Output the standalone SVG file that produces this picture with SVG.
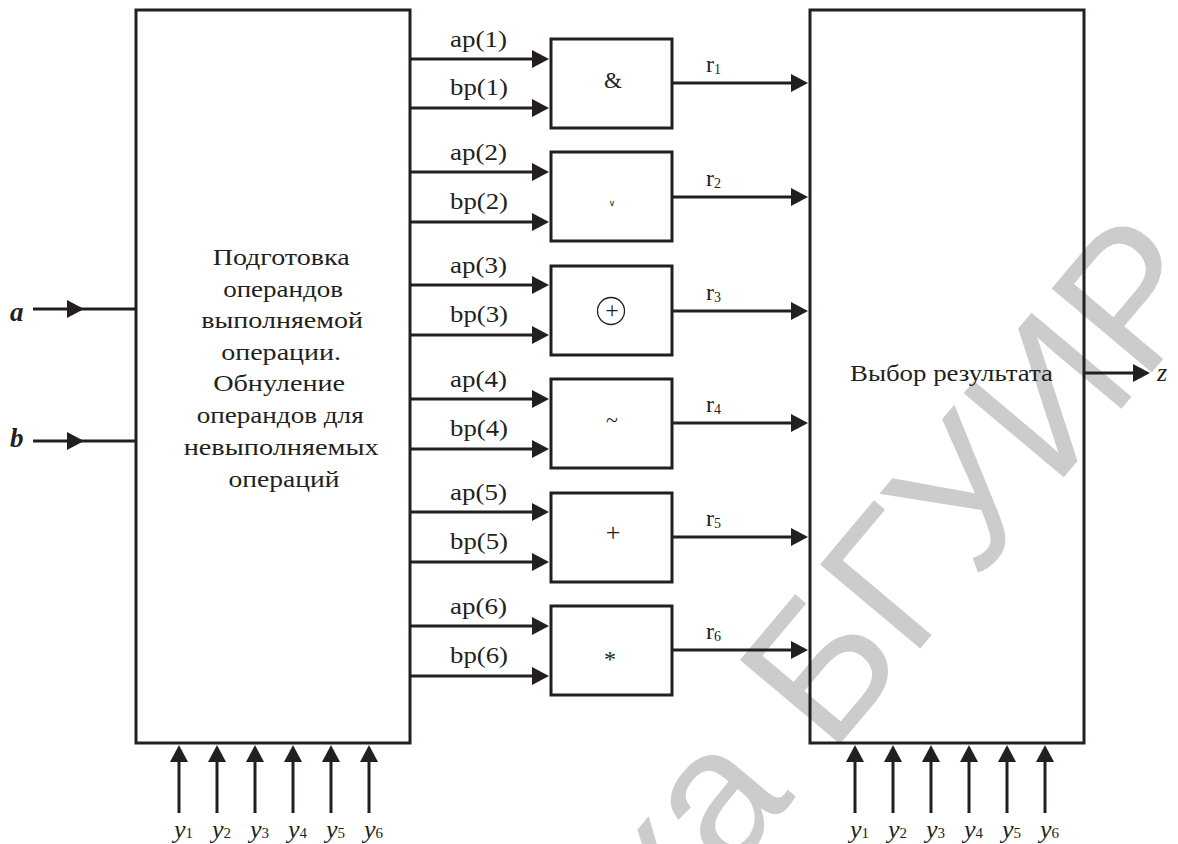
<svg xmlns="http://www.w3.org/2000/svg" width="1178" height="844" viewBox="0 0 1178 844">
<defs>
<style>
.box{fill:none;stroke:#231f20;stroke-width:3}
.w{fill:none;stroke:#231f20;stroke-width:3;marker-end:url(#ah)}
.wm{fill:none;stroke:#231f20;stroke-width:3;marker-mid:url(#ah)}
.t{font-family:"Liberation Serif","Times New Roman",serif;fill:#231f20;font-size:23px}
.lbl{font-family:"Liberation Serif","Times New Roman",serif;fill:#231f20;font-size:23px}
.rl{font-family:"Liberation Serif","Times New Roman",serif;fill:#231f20;font-size:24px}
.sub{font-size:14px}
.yl{font-family:"Liberation Serif","Times New Roman",serif;fill:#231f20;font-size:26px;font-style:italic}
.ys{font-size:15px;font-style:normal}
.io{font-family:"Liberation Serif","Times New Roman",serif;fill:#231f20;font-size:27px;font-style:italic;font-weight:bold}
.sym{font-family:"Liberation Serif","Times New Roman",serif;fill:#231f20;text-anchor:middle}
.wmk{font-family:"Liberation Sans",Arial,sans-serif;fill:#cccccc;font-size:190px}
</style>
<marker id="ah" viewBox="0 0 17 18" refX="9" refY="9" markerWidth="17" markerHeight="18" markerUnits="userSpaceOnUse" orient="auto">
<path d="M0,0 L17,9 L0,18 z" fill="#231f20"/>
</marker>
</defs>
<rect width="1178" height="844" fill="#ffffff"/>

<g id="watermark" transform="translate(830,756) rotate(-50)">
<text class="wmk" x="-53" y="0" text-anchor="end">Библиотека</text>
<text class="wmk" x="0" y="0">БГУИР</text>
</g>

<g id="prep">
<rect class="box" x="136" y="10" width="274" height="733"/>
<text class="t" text-anchor="middle">
<tspan x="284" y="265" textLength="137" lengthAdjust="spacingAndGlyphs">Подготовка</tspan>
<tspan x="286" y="297" textLength="120" lengthAdjust="spacingAndGlyphs">операндов</tspan>
<tspan x="285" y="328" textLength="162" lengthAdjust="spacingAndGlyphs">выполняемой</tspan>
<tspan x="284" y="360" textLength="120" lengthAdjust="spacingAndGlyphs">операции.</tspan>
<tspan x="282" y="391" textLength="132" lengthAdjust="spacingAndGlyphs">Обнуление</tspan>
<tspan x="283" y="423" textLength="167" lengthAdjust="spacingAndGlyphs">операндов для</tspan>
<tspan x="284" y="455" textLength="195" lengthAdjust="spacingAndGlyphs">невыполняемых</tspan>
<tspan x="284" y="487" textLength="111" lengthAdjust="spacingAndGlyphs">операций</tspan>
</text>
</g>

<g id="op1"><rect class="box" x="551" y="39" width="121" height="89"/><text class="sym" x="613" y="88" font-size="23">&amp;</text></g>
<g id="op2"><rect class="box" x="551" y="152" width="121" height="89"/><text x="612" y="206" font-size="9" text-anchor="middle" font-family="DejaVu Serif, serif" fill="#231f20">∨</text></g>
<g id="op3"><rect class="box" x="551" y="266" width="121" height="89"/><circle cx="611" cy="311" r="13.5" fill="none" stroke="#231f20" stroke-width="1.3"/><text class="sym" x="612" y="318" font-size="24">+</text></g>
<g id="op4"><rect class="box" x="551" y="379" width="121" height="89"/><text class="sym" x="612" y="427" font-size="22">~</text></g>
<g id="op5"><rect class="box" x="551" y="493" width="121" height="89"/><text class="sym" x="613" y="541" font-size="26">+</text></g>
<g id="op6"><rect class="box" x="551" y="606" width="121" height="89"/><text class="sym" x="610" y="667" font-size="24">*</text></g>

<g id="select">
<rect class="box" x="810" y="10" width="274" height="733"/>
<text class="t" x="850" y="381" textLength="203" lengthAdjust="spacingAndGlyphs">Выбор результата</text>
</g>

<g id="connectors">
<path class="wm" d="M33,309 H76 H136"/>
<path class="wm" d="M33,441 H76 H136"/>
<path class="w" d="M411,59 H541"/>
<path class="w" d="M411,108 H541"/>
<path class="w" d="M411,172 H541"/>
<path class="w" d="M411,222 H541"/>
<path class="w" d="M411,285 H541"/>
<path class="w" d="M411,335 H541"/>
<path class="w" d="M411,399 H541"/>
<path class="w" d="M411,449 H541"/>
<path class="w" d="M411,512 H541"/>
<path class="w" d="M411,562 H541"/>
<path class="w" d="M411,626 H541"/>
<path class="w" d="M411,676 H541"/>
<path class="w" d="M672,83 H800"/>
<path class="w" d="M672,197 H800"/>
<path class="w" d="M672,311 H800"/>
<path class="w" d="M672,423 H800"/>
<path class="w" d="M672,537 H800"/>
<path class="w" d="M672,650 H800"/>
<path class="w" d="M1084,373 H1142"/>
<path class="w" d="M179,813 V753"/>
<path class="w" d="M217,813 V753"/>
<path class="w" d="M255,813 V753"/>
<path class="w" d="M293,813 V753"/>
<path class="w" d="M331,813 V753"/>
<path class="w" d="M369,813 V753"/>
<path class="w" d="M855,813 V753"/>
<path class="w" d="M893,813 V753"/>
<path class="w" d="M931,813 V753"/>
<path class="w" d="M969,813 V753"/>
<path class="w" d="M1007,813 V753"/>
<path class="w" d="M1045,813 V753"/>
</g>

<g id="labels">
<text class="io" x="10" y="321">a</text>
<text class="io" x="10" y="447">b</text>
<text class="yl" x="1157" y="381">z</text>
<text class="lbl" x="450" y="47" textLength="57" lengthAdjust="spacingAndGlyphs">ap(1)</text>
<text class="lbl" x="450" y="95" textLength="58" lengthAdjust="spacingAndGlyphs">bp(1)</text>
<text class="lbl" x="450" y="160" textLength="57" lengthAdjust="spacingAndGlyphs">ap(2)</text>
<text class="lbl" x="450" y="209" textLength="58" lengthAdjust="spacingAndGlyphs">bp(2)</text>
<text class="lbl" x="450" y="273" textLength="57" lengthAdjust="spacingAndGlyphs">ap(3)</text>
<text class="lbl" x="450" y="322" textLength="58" lengthAdjust="spacingAndGlyphs">bp(3)</text>
<text class="lbl" x="450" y="387" textLength="57" lengthAdjust="spacingAndGlyphs">ap(4)</text>
<text class="lbl" x="450" y="436" textLength="58" lengthAdjust="spacingAndGlyphs">bp(4)</text>
<text class="lbl" x="450" y="500" textLength="57" lengthAdjust="spacingAndGlyphs">ap(5)</text>
<text class="lbl" x="450" y="549" textLength="58" lengthAdjust="spacingAndGlyphs">bp(5)</text>
<text class="lbl" x="450" y="614" textLength="57" lengthAdjust="spacingAndGlyphs">ap(6)</text>
<text class="lbl" x="450" y="663" textLength="58" lengthAdjust="spacingAndGlyphs">bp(6)</text>
<text class="rl" x="706" y="72">r<tspan class="sub" dy="2">1</tspan></text>
<text class="rl" x="706" y="186">r<tspan class="sub" dy="2">2</tspan></text>
<text class="rl" x="706" y="300">r<tspan class="sub" dy="2">3</tspan></text>
<text class="rl" x="706" y="412">r<tspan class="sub" dy="2">4</tspan></text>
<text class="rl" x="706" y="526">r<tspan class="sub" dy="2">5</tspan></text>
<text class="rl" x="706" y="639">r<tspan class="sub" dy="2">6</tspan></text>
<text class="yl" x="174" y="838">y<tspan class="ys">1</tspan></text>
<text class="yl" x="212" y="838">y<tspan class="ys">2</tspan></text>
<text class="yl" x="250" y="838">y<tspan class="ys">3</tspan></text>
<text class="yl" x="288" y="838">y<tspan class="ys">4</tspan></text>
<text class="yl" x="326" y="838">y<tspan class="ys">5</tspan></text>
<text class="yl" x="364" y="838">y<tspan class="ys">6</tspan></text>
<text class="yl" x="850" y="838">y<tspan class="ys">1</tspan></text>
<text class="yl" x="888" y="838">y<tspan class="ys">2</tspan></text>
<text class="yl" x="926" y="838">y<tspan class="ys">3</tspan></text>
<text class="yl" x="964" y="838">y<tspan class="ys">4</tspan></text>
<text class="yl" x="1002" y="838">y<tspan class="ys">5</tspan></text>
<text class="yl" x="1040" y="838">y<tspan class="ys">6</tspan></text>
</g>
</svg>
